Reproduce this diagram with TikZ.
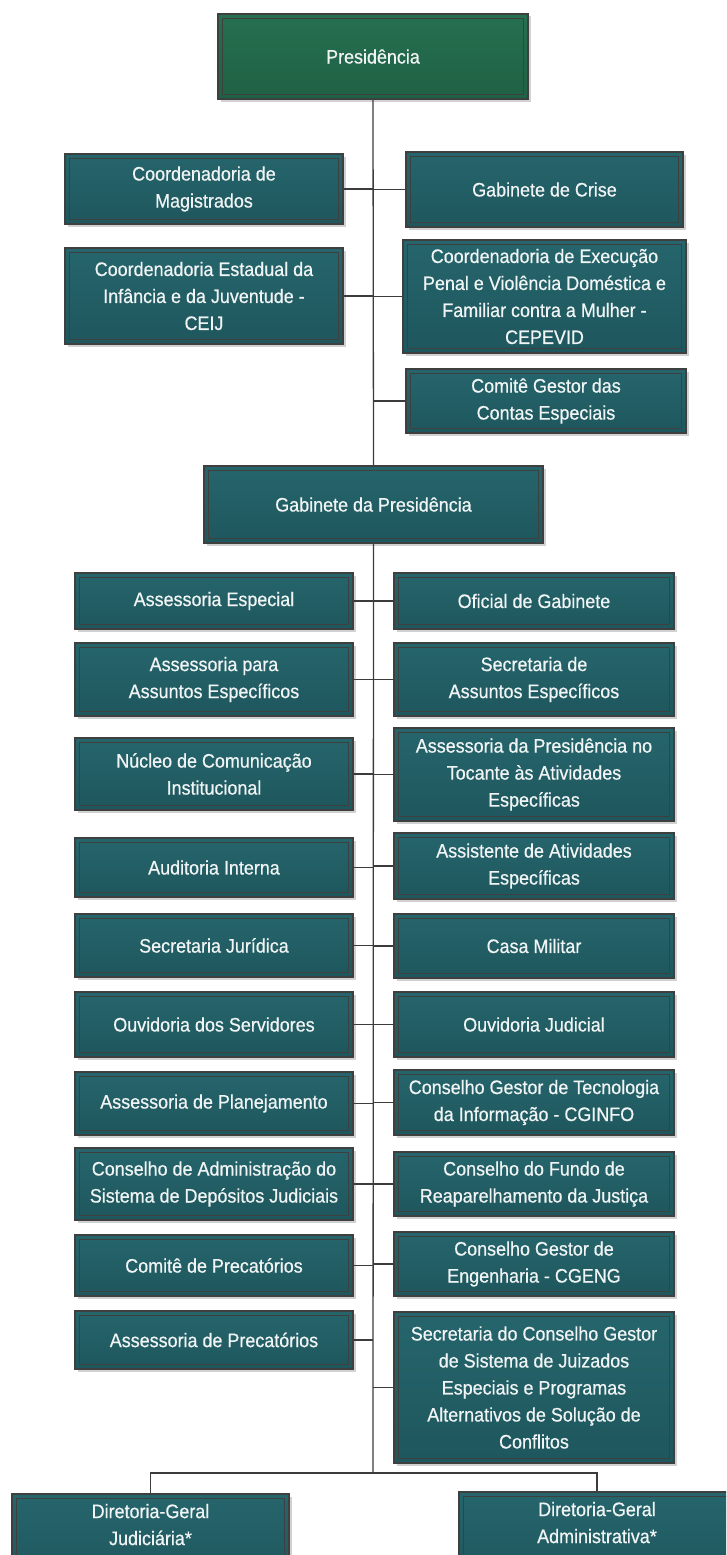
\documentclass[tikz,border=0pt]{standalone}
\usepackage{fontspec}
\setmainfont{Liberation Sans}[FakeStretch=0.92,FakeBold=0.6]
\usetikzlibrary{shadows,calc}
\definecolor{tealtop}{RGB}{38,101,108}
\definecolor{tealbot}{RGB}{30,87,93}
\definecolor{greentop}{RGB}{38,111,80}
\definecolor{greenbot}{RGB}{31,97,68}
\definecolor{bordc}{RGB}{62,64,64}
\definecolor{linec}{RGB}{60,60,60}
\definecolor{txtc}{RGB}{240,244,244}
\tikzset{
  tbox/.style={rectangle, draw=bordc, line width=1.6pt,
    top color=tealtop, bottom color=tealbot,
    text=txtc, align=center, inner sep=0pt,
    font=\fontsize{19.5}{27}\selectfont,
    drop shadow={shadow xshift=2.5pt, shadow yshift=-2.5pt, fill=black!18, opacity=1},
    path picture={\draw[bordc, line width=1pt]
      ([shift={(4.5pt,4.5pt)}]path picture bounding box.south west) rectangle
      ([shift={(-4.5pt,-4.5pt)}]path picture bounding box.north east);}},
  gbox/.style={tbox, top color=greentop, bottom color=greenbot},
  conn/.style={draw=linec, line width=1.3pt}
}
\newcommand\orgbox[7][tbox]{%
  \node[#1, minimum width={(#5-#3)*1pt}, minimum height={(#6-#4)*1pt}]
    (#2) at ({(#3+#5)/2},{(#4+#6)/2}) {#7};}
\begin{document}
\begin{tikzpicture}[x=1pt,y=-1pt]
\fill[white] (0,0) rectangle (726,1555);
\useasboundingbox (0,0) rectangle (726,1555);
\clip (0,0) rectangle (726,1555);
\coordinate (tr) at (373,0);
\coordinate (jt) at (373,1473);
\orgbox[gbox]{pres}{218}{14}{528}{99}{Presidência}
\orgbox{mag}{65}{154}{343}{224}{Coordenadoria de\\Magistrados}
\orgbox{crise}{406}{152}{683}{227}{Gabinete de Crise}
\orgbox{ceu}{65}{248}{343}{344}{Coordenadoria Estadual da\\Infância e da Juventude -\\CEIJ}
\orgbox{cep}{403}{240}{686}{353}{Coordenadoria de Execução\\Penal e Violência Doméstica e\\Familiar contra a Mulher -\\CEPEVID}
\orgbox{com}{406}{369}{686}{433}{Comitê Gestor das\\Contas Especiais}
\orgbox{gab}{204}{466}{543}{543}{Gabinete da Presidência}
\orgbox{a1}{75}{573}{353}{629}{Assessoria Especial}
\orgbox{b1}{394}{573}{674}{629}{Oficial de Gabinete}
\orgbox{a2}{75}{643}{353}{716}{Assessoria para\\Assuntos Específicos}
\orgbox{b2}{394}{643}{674}{716}{Secretaria de\\Assuntos Específicos}
\orgbox{a3}{75}{738}{353}{810}{Núcleo de Comunicação\\Institucional}
\orgbox{b3}{394}{728}{674}{821}{Assessoria da Presidência no\\Tocante às Atividades\\Específicas}
\orgbox{a4}{75}{838}{353}{897}{Auditoria Interna}
\orgbox{b4}{394}{833}{674}{899}{Assistente de Atividades\\Específicas}
\orgbox{a5}{75}{914}{353}{977}{Secretaria Jurídica}
\orgbox{b5}{394}{914}{674}{978}{Casa Militar}
\orgbox{a6}{75}{992}{353}{1057}{Ouvidoria dos Servidores}
\orgbox{b6}{394}{992}{674}{1057}{Ouvidoria Judicial}
\orgbox{a7}{75}{1072}{353}{1135}{Assessoria de Planejamento}
\orgbox{b7}{394}{1070}{674}{1135}{Conselho Gestor de Tecnologia\\da Informação - CGINFO}
\orgbox{a8}{75}{1148}{353}{1220}{Conselho de Administração do\\Sistema de Depósitos Judiciais}
\orgbox{b8}{394}{1152}{674}{1216}{Conselho do Fundo de\\Reaparelhamento da Justiça}
\orgbox{a9}{75}{1235}{353}{1296}{Comitê de Precatórios}
\orgbox{b9}{394}{1232}{674}{1296}{Conselho Gestor de\\Engenharia - CGENG}
\orgbox{a10}{75}{1311}{353}{1369}{Assessoria de Precatórios}
\orgbox{b10}{394}{1312}{674}{1463}{Secretaria do Conselho Gestor\\de Sistema de Juizados\\Especiais e Programas\\Alternativos de Solução de\\Conflitos}
\orgbox{jud}{12}{1494}{289}{1582}{Diretoria-Geral\\Judiciária*\\\mbox{}}
\orgbox{adm}{459}{1492}{735}{1580}{Diretoria-Geral\\Administrativa*\\\mbox{}}
% connectors
\draw[conn] (pres.south) -- (gab.north);
\draw[conn] (gab.south) -- (jt);
\foreach \n in {mag,ceu,a1,a2,a3,a4,a5,a6,a7,a8,a9,a10}
  \draw[conn] (\n.east) -- (\n.east -| tr);
\foreach \n in {crise,cep,com,b1,b2,b3,b4,b5,b6,b7,b8,b9,b10}
  \draw[conn] (\n.west) -- (\n.west -| tr);
\draw[conn] (jud.north) |- (jt) -| (adm.north);
\end{tikzpicture}
\end{document}
